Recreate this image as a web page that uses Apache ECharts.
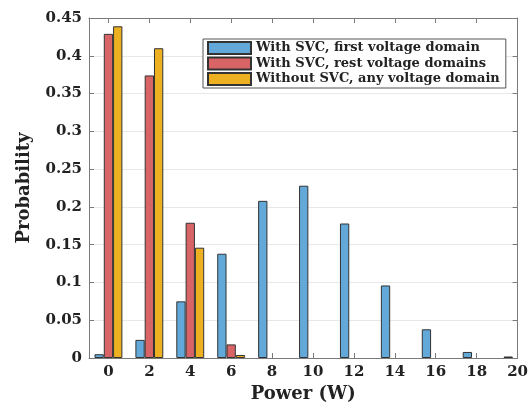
<!DOCTYPE html>
<html>
<head>
<meta charset="utf-8">
<script src="https://cdn.jsdelivr.net/npm/echarts@6/dist/echarts.min.js"></script>
<style>
  html, body { margin: 0; padding: 0; background: #fff; }
  #chart { width: 531px; height: 408px; }
</style>
</head>
<body>
<div id="chart"></div>
<script>
// Power levels (W) on the x axis
const powerW = [0, 2, 4, 6, 8, 10, 12, 14, 16, 18, 20];

// Probability of each power level
const firstDomain = [0.005, 0.024, 0.075, 0.138, 0.208, 0.228, 0.178, 0.096, 0.038, 0.008, 0.002];
const restDomains = [0.429, 0.374, 0.179, 0.018, 0, 0, 0, 0, 0, 0, 0];
const withoutSvc  = [0.439, 0.410, 0.146, 0.004, 0, 0, 0, 0, 0, 0, 0];

const seriesNames = [
  'With SVC, first voltage domain',
  'With SVC, rest voltage domains',
  'Without SVC, any voltage domain'
];
const seriesColors = ['#62a8d8', '#d96466', '#ecb020'];

const xTicks = powerW.slice();
const yMax = 0.45;
const yStep = 0.05;

const FONT = 'DejaVu Serif';
const AXIS_GRAY = '#7a7a7a';

// Zero-height bars carry no outline so they don't darken the baseline
function pairs(values) {
  return powerW.map((p, i) => {
    const v = values[i];
    return v === 0 ? { value: [p, v], itemStyle: { borderWidth: 0 } } : [p, v];
  });
}

const chart = echarts.init(document.getElementById('chart'), null, { renderer: 'canvas' });

const xMin = -0.95, xMax = 20;

const tickStyle = { show: true, inside: true, length: 5, lineStyle: { color: AXIS_GRAY, width: 1 } };
const lineStyle = { show: true, onZero: false, lineStyle: { color: AXIS_GRAY, width: 1 } };
const labelFont = { fontFamily: FONT, fontWeight: 'bold', fontSize: 15, color: '#222' };

const option = {
  animation: false,
  backgroundColor: '#fff',
  grid: { left: 89, right: 11, top: 18, bottom: 46, containLabel: false },
  legend: {
    orient: 'vertical',
    left: 203,
    top: 39,
    itemWidth: 43,
    itemHeight: 12,
    itemGap: 1.5,
    padding: [2, 6, 2, 4],
    backgroundColor: '#fff',
    borderColor: '#555',
    borderWidth: 1,
    borderRadius: 0,
    icon: 'rect',
    textStyle: { fontFamily: FONT, fontWeight: 'bold', fontSize: 13, lineHeight: 12.5, color: '#222' },
    data: seriesNames
  },
  xAxis: [
    {
      type: 'value',
      min: xMin,
      max: xMax,
      position: 'bottom',
      name: 'Power (W)',
      nameLocation: 'middle',
      nameGap: 27,
      nameTextStyle: { fontFamily: FONT, fontWeight: 'bold', fontSize: 18, color: '#222' },
      axisLine: lineStyle,
      axisTick: Object.assign({ customValues: xTicks }, tickStyle),
      axisLabel: Object.assign({ customValues: xTicks, margin: 7 }, labelFont),
      splitLine: { show: false }
    },
    {
      type: 'value',
      min: xMin,
      max: xMax,
      position: 'top',
      axisLine: lineStyle,
      axisTick: Object.assign({ customValues: xTicks }, tickStyle),
      axisLabel: { show: false },
      splitLine: { show: false }
    }
  ],
  yAxis: [
    {
      type: 'value',
      min: 0,
      max: yMax,
      interval: yStep,
      position: 'left',
      name: 'Probability',
      nameLocation: 'middle',
      nameGap: 56,
      nameRotate: 90,
      nameTextStyle: { fontFamily: FONT, fontWeight: 'bold', fontSize: 18, color: '#222' },
      axisLine: lineStyle,
      axisTick: tickStyle,
      axisLabel: Object.assign({ margin: 7 }, labelFont),
      splitLine: { show: true, lineStyle: { color: '#e8e8e8', width: 1 } }
    },
    {
      type: 'value',
      min: 0,
      max: yMax,
      interval: yStep,
      position: 'right',
      axisLine: lineStyle,
      axisTick: tickStyle,
      axisLabel: { show: false },
      splitLine: { show: false }
    }
  ],
  series: [firstDomain, restDomains, withoutSvc].map((vals, k) => ({
    name: seriesNames[k],
    type: 'bar',
    xAxisIndex: 0,
    yAxisIndex: 0,
    barWidth: 9.3,
    barGap: '0%',
    itemStyle: { color: seriesColors[k], borderColor: '#333', borderWidth: 1 },
    data: pairs(vals)
  }))
};

chart.setOption(option);
</script>
</body>
</html>
